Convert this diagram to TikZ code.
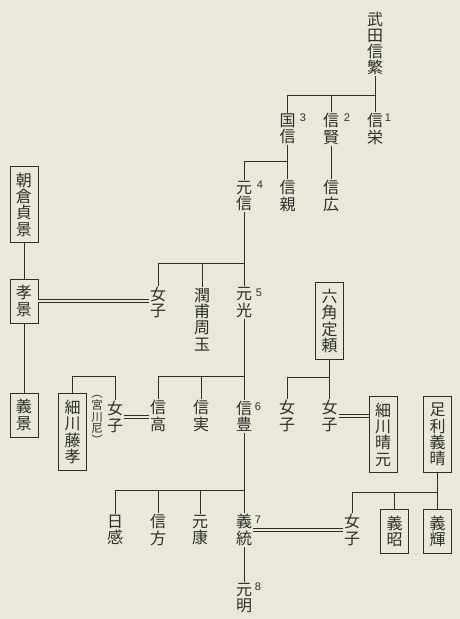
\documentclass[tikz,border=0pt]{standalone}
\usepackage{fontspec}
\newfontfamily\jp{Noto Sans CJK JP}
\newfontfamily\numf{Liberation Sans}
\definecolor{bg}{RGB}{233,232,218}
\definecolor{ink}{RGB}{45,45,45}
\begin{document}
\begin{tikzpicture}[x=1pt,y=-1pt,
 nm/.style={inner sep=1pt, align=center, font={\jp\fontsize{16}{16.3}\selectfont}, text=ink},
 bx/.style={nm, draw=ink, line width=0.7pt, inner xsep=6pt, inner ysep=6.5pt},
 sm/.style={inner sep=0pt, align=center, font={\jp\fontsize{11.5}{11.8}\selectfont}, text=ink},
 num/.style={inner sep=0pt, font={\numf\fontsize{11}{12}\selectfont}, text=ink},
 ln/.style={draw=ink, line width=0.7pt},
 dbl/.style={draw=ink, line width=0.6pt, double=bg, double distance=2.4pt}]
\fill[bg] (0,0) rectangle (460,619);
\useasboundingbox (0,0) rectangle (460,619);
% names
\node[nm] (nobushige) at (375,43.5) {武\\田\\信\\繁};
\node[nm] (kuninobu) at (287.5,129) {国\\信};
\node[nm] (nobukata) at (331,129) {信\\賢};
\node[nm] (nobuhide) at (375,129) {信\\栄};
\node[nm] (motonobu) at (244,196) {元\\信};
\node[nm] (nobuchika) at (287.5,196) {信\\親};
\node[nm] (nobuhiro) at (331,196) {信\\広};
\node[nm] (joshiA) at (158,302.5) {女\\子};
\node[nm] (junpo) at (202,319.5) {潤\\甫\\周\\玉};
\node[nm] (motomitsu) at (244,302.5) {元\\光};
\node[bx] (rokkaku) at (329.5,321) {六\\角\\定\\頼};
\node[bx] (asakura) at (24,204.5) {朝\\倉\\貞\\景};
\node[bx] (takakage) at (24,301) {孝\\景};
\node[bx] (yoshikage) at (24,415) {義\\景};
\node[bx] (fujitaka) at (72.5,432) {細\\川\\藤\\孝};
\node[nm] (joshiB) at (115,417) {女\\子};
\node[sm] (miyagawa) at (97,420) {︵\\宮\\川\\尼\\︶};
\node[nm] (nobutaka) at (158,416) {信\\高};
\node[nm] (nobuzane) at (201,416) {信\\実};
\node[nm] (nobutoyo) at (244,416.5) {信\\豊};
\node[nm] (joshiC) at (287,416) {女\\子};
\node[nm] (joshiD) at (329.5,416) {女\\子};
\node[bx] (harumoto) at (383,434.5) {細\\川\\晴\\元};
\node[bx] (yoshiharu) at (437.5,434.5) {足\\利\\義\\晴};
\node[nm] (nikkan) at (115,530) {日\\感};
\node[nm] (nobukata2) at (158,530) {信\\方};
\node[nm] (motoyasu) at (200,530) {元\\康};
\node[nm] (yoshimune) at (244,530) {義\\統};
\node[nm] (joshiE) at (352,530) {女\\子};
\node[bx] (yoshiaki) at (394.5,531.5) {義\\昭};
\node[bx] (yoshiteru) at (437.5,531.5) {義\\輝};
\node[nm] (motoaki) at (244,598) {元\\明};
% generation numbers
\node[num] (n1) at (388,118) {1};
\node[num] (n2) at (347,118) {2};
\node[num] (n3) at (303,118) {3};
\node[num] (n4) at (260,185) {4};
\node[num] (n5) at (259,293) {5};
\node[num] (n6) at (258,407) {6};
\node[num] (n7) at (258,520) {7};
\node[num] (n8) at (258,587) {8};
% junctions
\coordinate (j1) at (375,95);
\coordinate (j2) at (287.5,161);
\coordinate (j3) at (244,263);
\coordinate (j4) at (244,376);
\coordinate (j5) at (329.5,377);
\coordinate (j6) at (115,376);
\coordinate (j7) at (244,490);
\coordinate (j8) at (437.5,492);
% connectors
\draw[ln] (nobushige.south) -- (nobuhide.north);
\draw[ln] (kuninobu.north) |- (j1);
\draw[ln] (nobukata.north) -- (nobukata.north |- j1);
\draw[ln] (kuninobu.south) -- (nobuchika.north);
\draw[ln] (motonobu.north) |- (j2);
\draw[ln] (nobukata.south) -- (nobuhiro.north);
\draw[ln] (motonobu.south) -- (motomitsu.north);
\draw[ln] (joshiA.north) |- (j3);
\draw[ln] (junpo.north) -- (junpo.north |- j3);
\draw[ln] (motomitsu.south) -- (nobutoyo.north);
\draw[ln] (nobutaka.north) |- (j4);
\draw[ln] (nobuzane.north) -- (nobuzane.north |- j4);
\draw[ln] (rokkaku.south) -- (joshiD.north);
\draw[ln] (joshiC.north) |- (j5);
\draw[ln] (fujitaka.north) |- (j6) -- (joshiB.north);
\draw[ln] (asakura.south) -- (takakage.north);
\draw[ln] (takakage.south) -- (yoshikage.north);
\draw[ln] (nobutoyo.south) -- (yoshimune.north);
\draw[ln] (nikkan.north) |- (j7);
\draw[ln] (nobukata2.north) -- (nobukata2.north |- j7);
\draw[ln] (motoyasu.north) -- (motoyasu.north |- j7);
\draw[ln] (yoshimune.south) -- (motoaki.north);
\draw[ln] (yoshiharu.south) -- (yoshiteru.north);
\draw[ln] (joshiE.north) |- (j8);
\draw[ln] (yoshiaki.north) -- (yoshiaki.north |- j8);
% marriages
\draw[dbl] (takakage.east) -- (takakage.east -| joshiA.west);
\draw[dbl] (joshiB.east) -- (joshiB.east -| nobutaka.west);
\draw[dbl] (nobutoyo.east) -- (nobutoyo.east -| joshiC.west);
\draw[dbl] (joshiD.east) -- (joshiD.east -| harumoto.west);
\draw[dbl] (yoshimune.east) -- (yoshimune.east -| joshiE.west);
\end{tikzpicture}
\end{document}
